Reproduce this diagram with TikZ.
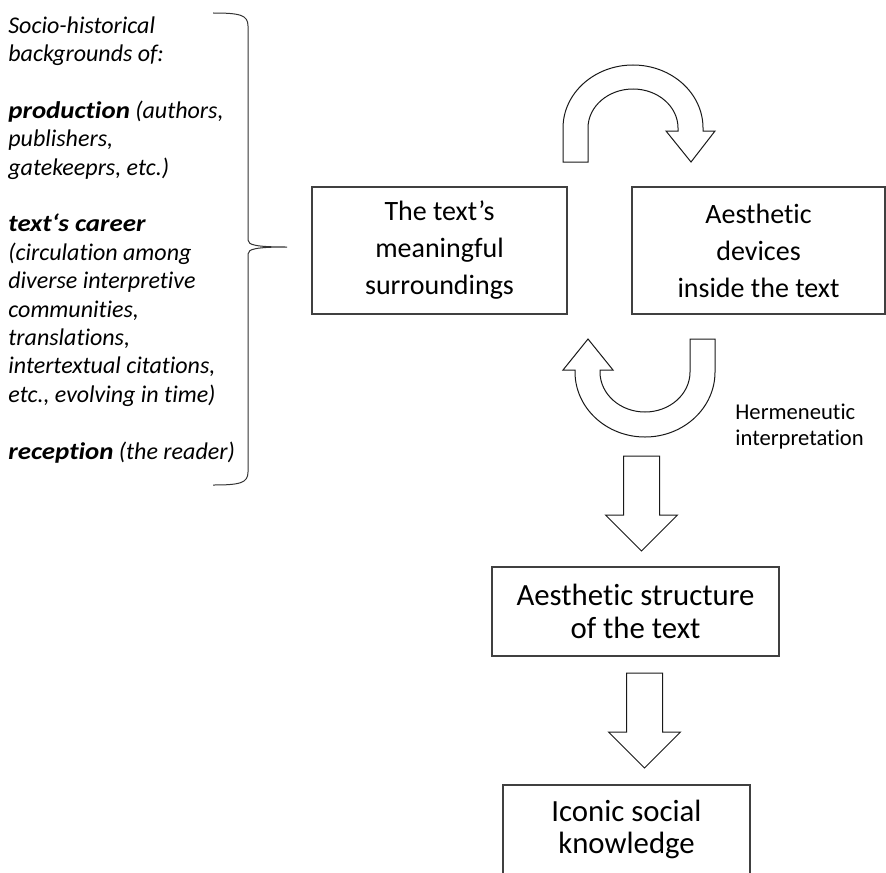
\documentclass[tikz,border=0pt]{standalone}
\usepackage{fontspec}
\setmainfont{Carlito}[Ligatures={NoCommon,NoContextual}, BoldItalicFeatures={FakeStretch=1.12}]
\usepackage{tikz}

\begin{document}
\begin{tikzpicture}[x=0.5pt,y=-0.5pt,
	textbox/.style={draw=black!75, line width=0.6pt, align=center, inner sep=0pt, font=\fontsize{14}{18.5}\selectfont},
	lowbox/.style={textbox, minimum height=44.5pt, font=\fontsize{15.4}{16.3}\selectfont},
	blockarrow/.style={draw=black!90, line width=0.5pt, fill=white},
	brace/.style={draw=black!80, line width=0.5pt}]
	\useasboundingbox (0,0) rectangle (886,872);
	\node[textbox, minimum width=127.5pt, minimum height=63.5pt] (surround) at (439.5,250.5) {The text’s\\meaningful\\surroundings};
	\node[textbox, minimum width=126.5pt, minimum height=63.5pt] (devices) at (758.5,250.5) {Aesthetic\\devices\\inside the text};
	\node[lowbox, minimum width=143.5pt] (structure) at (635.5,611.5) {Aesthetic structure\\of the text};
	\node[lowbox, minimum width=123.5pt] (iconic) at (626.5,829.5) {Iconic social\\knowledge};
	\node[anchor=north west, inner sep=0pt, align=left, font=\fontsize{11.3}{13}\selectfont] (herm) at (735,404) {Hermeneutic\\interpretation};
	\node[anchor=north west, inner sep=0pt, align=left, font=\fontsize{12}{14.2}\selectfont\itshape] (socio) at (8,16) {Socio-historical\\backgrounds of:\\[14.2pt]\textbf{production} (authors,\\publishers,\\gatekeeprs, etc.)\\[14.2pt]\textbf{text‘s career}\\(circulation among\\diverse interpretive\\communities,\\translations,\\intertextual citations,\\etc., evolving in time)\\[14.2pt]\textbf{reception} (the reader)};
	\coordinate (bracetip) at (287,247);
	\draw[brace] (213,13) .. controls (240,13) and (248,15) .. (248,26) -- (248,240) .. controls (248,245) and (256,247) .. (bracetip) .. controls (256,247) and (248,249) .. (248,254) -- (248,472) .. controls (248,483) and (240,485) .. (213,485);
	\draw[blockarrow] (563,162) -- (563,128) arc[start angle=180, end angle=360, x radius=70, y radius=63] -- (703,131) -- (715,131) -- (691,162) -- (666,131) -- (678,131) -- (678,128) arc[start angle=360, end angle=180, x radius=45, y radius=39] -- (588,162) -- cycle;
	\draw[blockarrow] (715,339) -- (715,372) arc[start angle=0, end angle=180, x radius=70, y radius=65] -- (575,370) -- (563,370) -- (588,339) -- (613,370) -- (600,370) -- (600,372) arc[start angle=180, end angle=0, x radius=45, y radius=40] -- (690,339) -- cycle;
	\foreach \cx/\ty in {641.5/456, 644.5/673}
	{
	\draw[blockarrow] (\cx-18,\ty) -- (\cx+18,\ty) -- (\cx+18,\ty+59) -- (\cx+36,\ty+59) -- (\cx,\ty+95) -- (\cx-36,\ty+59) -- (\cx-18,\ty+59) -- cycle;
	}
\end{tikzpicture}
\end{document}
